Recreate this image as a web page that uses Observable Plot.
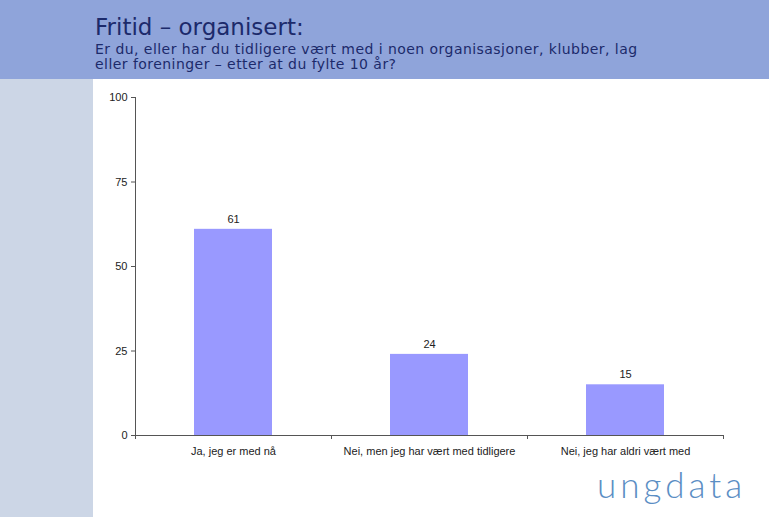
<!DOCTYPE html>
<html><head><meta charset="utf-8">
<script src="https://cdn.jsdelivr.net/npm/d3@7"></script>
<script src="https://cdn.jsdelivr.net/npm/@observablehq/plot@0.6"></script>
<style>
html,body{margin:0;padding:0;}
body{width:769px;height:517px;position:relative;overflow:hidden;background:#fff;}
#top{position:absolute;left:0;top:0;width:769px;height:79px;background:#8fa4da;}
#side{position:absolute;left:0;top:79px;width:93px;height:438px;background:#ccd6e6;}
#title{position:absolute;left:95px;top:16px;font-family:"DejaVu Sans",sans-serif;font-size:23px;line-height:23px;color:#1c2a6b;white-space:nowrap;}
#sub{position:absolute;left:95px;top:42px;font-family:"DejaVu Sans",sans-serif;font-size:14px;line-height:15px;letter-spacing:0.45px;color:#1c2a6b;white-space:nowrap;}
#chart{position:absolute;left:93px;top:79px;}
#logo{position:absolute;left:597px;top:467px;font-family:"Lato","DejaVu Sans",sans-serif;font-weight:300;font-size:35px;line-height:35px;color:#5b8ec4;letter-spacing:4px;}
</style></head>
<body>
<div id="top"></div><div id="side"></div>
<div id="title">Fritid – organisert:</div>
<div id="sub">Er du, eller har du tidligere vært med i noen organisasjoner, klubber, lag<br>eller foreninger – etter at du fylte 10 år?</div>
<div id="chart"></div>
<div id="logo">ungdata</div>
<script>
const categories = ["Ja, jeg er med nå", "Nei, men jeg har vært med tidligere", "Nei, jeg har aldri vært med"];
const values = [61, 24, 15];
const yTicks = [0, 25, 50, 75, 100];
const data = categories.map((c, i) => ({cat: c, val: values[i]}));

const boundaryTicks = (index, scales, values, dims, context) => {
  const x = scales.x, step = x.step(), bw = x.bandwidth();
  const y0 = dims.height - dims.marginBottom;
  const xs = categories.map(c => x(c) - (step - bw) / 2);
  xs.push(xs[xs.length - 1] + step);
  const g = d3.create("svg:g").attr("stroke", "#555").attr("stroke-width", 1);
  xs.forEach(v => g.append("line").attr("x1", Math.round(v) + 0.5).attr("x2", Math.round(v) + 0.5).attr("y1", y0).attr("y2", y0 + 4));
  return g.node();
};

const chart = Plot.plot({
  width: 676, height: 400,
  marginLeft: 42, marginRight: 46, marginTop: 18, marginBottom: 44,
  style: {fontFamily: "'Liberation Sans', Arial, sans-serif", fontSize: "11px", color: "#222", background: "transparent"},
  x: {domain: categories, paddingInner: 0.6, paddingOuter: 0.3, label: null},
  y: {domain: [0, 100], ticks: yTicks, label: null},
  marks: [
    Plot.barY(data, {x: "cat", y: "val", fill: "#9999ff"}),
    Plot.text(data, {x: "cat", y: "val", text: d => String(d.val), dy: -10, fill: "#222", fontSize: 11}),
    Plot.axisY({ticks: yTicks, tickSize: 4, tickPadding: 4, stroke: "#555", fill: "#222", label: null, fontSize: 11}),
    Plot.axisX({tickSize: 0, tickPadding: 12, fill: "#222", label: null, fontSize: 11}),
    Plot.ruleX([0], {x: () => categories[0], stroke: "#555", render: boundaryTicks}),
    Plot.ruleY([0], {stroke: "#555"}),
    Plot.ruleX([0], {x: null, frameAnchor: "left", stroke: "#555", render: (i, s, v, d) => {
      const g = d3.create("svg:line").attr("x1", d.marginLeft + 0.5).attr("x2", d.marginLeft + 0.5)
        .attr("y1", d.marginTop).attr("y2", d.height - d.marginBottom).attr("stroke", "#555");
      return g.node();
    }})
  ]
});
document.getElementById("chart").appendChild(chart);
</script>
</body></html>
